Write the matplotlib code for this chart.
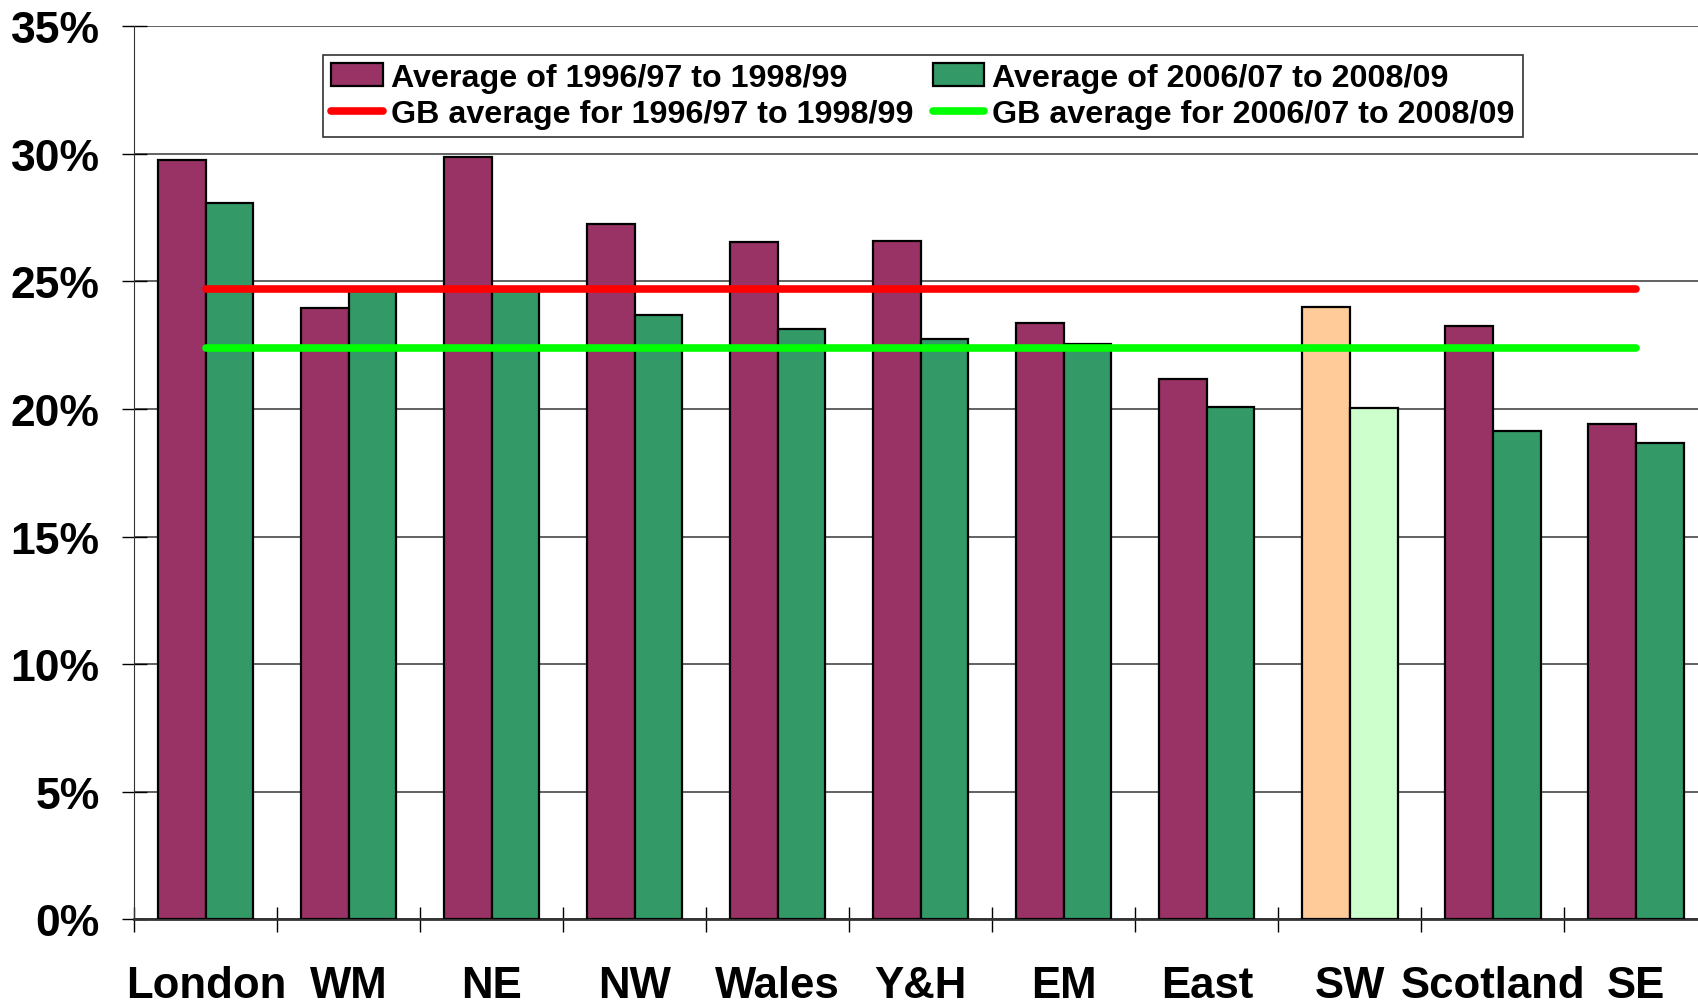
import matplotlib
matplotlib.use('Agg')
import matplotlib.pyplot as plt
import numpy as np
from matplotlib.patches import Patch
from matplotlib.lines import Line2D

plt.rcParams['font.family'] = ['Liberation Sans', 'DejaVu Sans']
plt.rcParams['font.weight'] = 'bold'

regions = ['London', 'WM', 'NE', 'NW', 'Wales', 'Y&H', 'EM', 'East', 'SW', 'Scotland', 'SE']
avg_9699 = [29.77, 23.96, 29.86, 27.23, 26.55, 26.59, 23.37, 21.16, 24.00, 23.24, 19.42]
avg_0609 = [28.08, 24.60, 24.60, 23.66, 23.15, 22.73, 22.55, 20.06, 20.02, 19.13, 18.66]
gb_9699 = 24.68
gb_0609 = 22.39

c_old = '#993366'
c_new = '#339966'
# SW highlighted in lighter colours
c_old_hi = '#FFCC99'
c_new_hi = '#CCFFCC'

fig = plt.figure(figsize=(16.98, 10.04), dpi=100)
ax = fig.add_axes([0.0791, 0.0832, 0.9264, 0.8899])

x = np.arange(len(regions))
w = 1 / 3
cols_old = [c_old_hi if r == 'SW' else c_old for r in regions]
cols_new = [c_new_hi if r == 'SW' else c_new for r in regions]
ax.bar(x - w / 2, avg_9699, w, color=cols_old, edgecolor='black', linewidth=1.6, zorder=3)
ax.bar(x + w / 2, avg_0609, w, color=cols_new, edgecolor='black', linewidth=1.6, zorder=3)

ax.plot([x[0], x[-1]], [gb_9699, gb_9699], color='#FF0000', lw=5.5, solid_capstyle='round', zorder=4)
ax.plot([x[0], x[-1]], [gb_0609, gb_0609], color='#00FF00', lw=5.5, solid_capstyle='round', zorder=4)

ax.set_xlim(-0.5, len(regions) - 0.5)
ax.set_ylim(0, 35)
ax.set_yticks(np.arange(0, 36, 5))
ax.set_yticklabels([f'{v}%' for v in range(0, 36, 5)], fontsize=32, fontweight='bold')
ax.yaxis.grid(True, color='#555555', lw=1.3, zorder=0)
ax.tick_params(axis='y', direction='inout', length=18, width=1, pad=16)

ax.set_xticks(np.arange(-0.5, len(regions), 1))
ax.set_xticklabels([])
ax.set_xticks(x, minor=True)
ax.set_xticklabels(regions, minor=True, fontsize=31.5, fontweight='bold')
ax.tick_params(axis='x', which='major', direction='inout', length=18, width=1)
ax.tick_params(axis='x', which='minor', length=0, pad=33)

for s in ['top', 'right']:
    ax.spines[s].set_visible(False)
ax.spines['left'].set_color('#333333')
ax.spines['bottom'].set_color('#333333')
ax.spines['bottom'].set_linewidth(2)

handles = [
    Patch(facecolor=c_old, edgecolor='black', lw=1.6, label='Average of 1996/97 to 1998/99'),
    Line2D([], [], color='#FF0000', lw=5.5, solid_capstyle='round', label='GB average for 1996/97 to 1998/99'),
    Patch(facecolor=c_new, edgecolor='black', lw=1.6, label='Average of 2006/07 to 2008/09'),
    Line2D([], [], color='#00FF00', lw=5.5, solid_capstyle='round', label='GB average for 2006/07 to 2008/09'),
]
leg = ax.legend(handles=handles, ncol=2, loc='upper left', bbox_to_anchor=(0.12, 0.968),
                prop={'size': 23.2, 'weight': 'bold'}, frameon=True, fancybox=False,
                edgecolor='black', handlelength=1.6, handleheight=0.7, handletextpad=0.25,
                columnspacing=0.6, labelspacing=0.2, borderpad=0.25, borderaxespad=0)
leg.get_frame().set_linewidth(1.2)

fig.savefig('out.png', dpi=100)
